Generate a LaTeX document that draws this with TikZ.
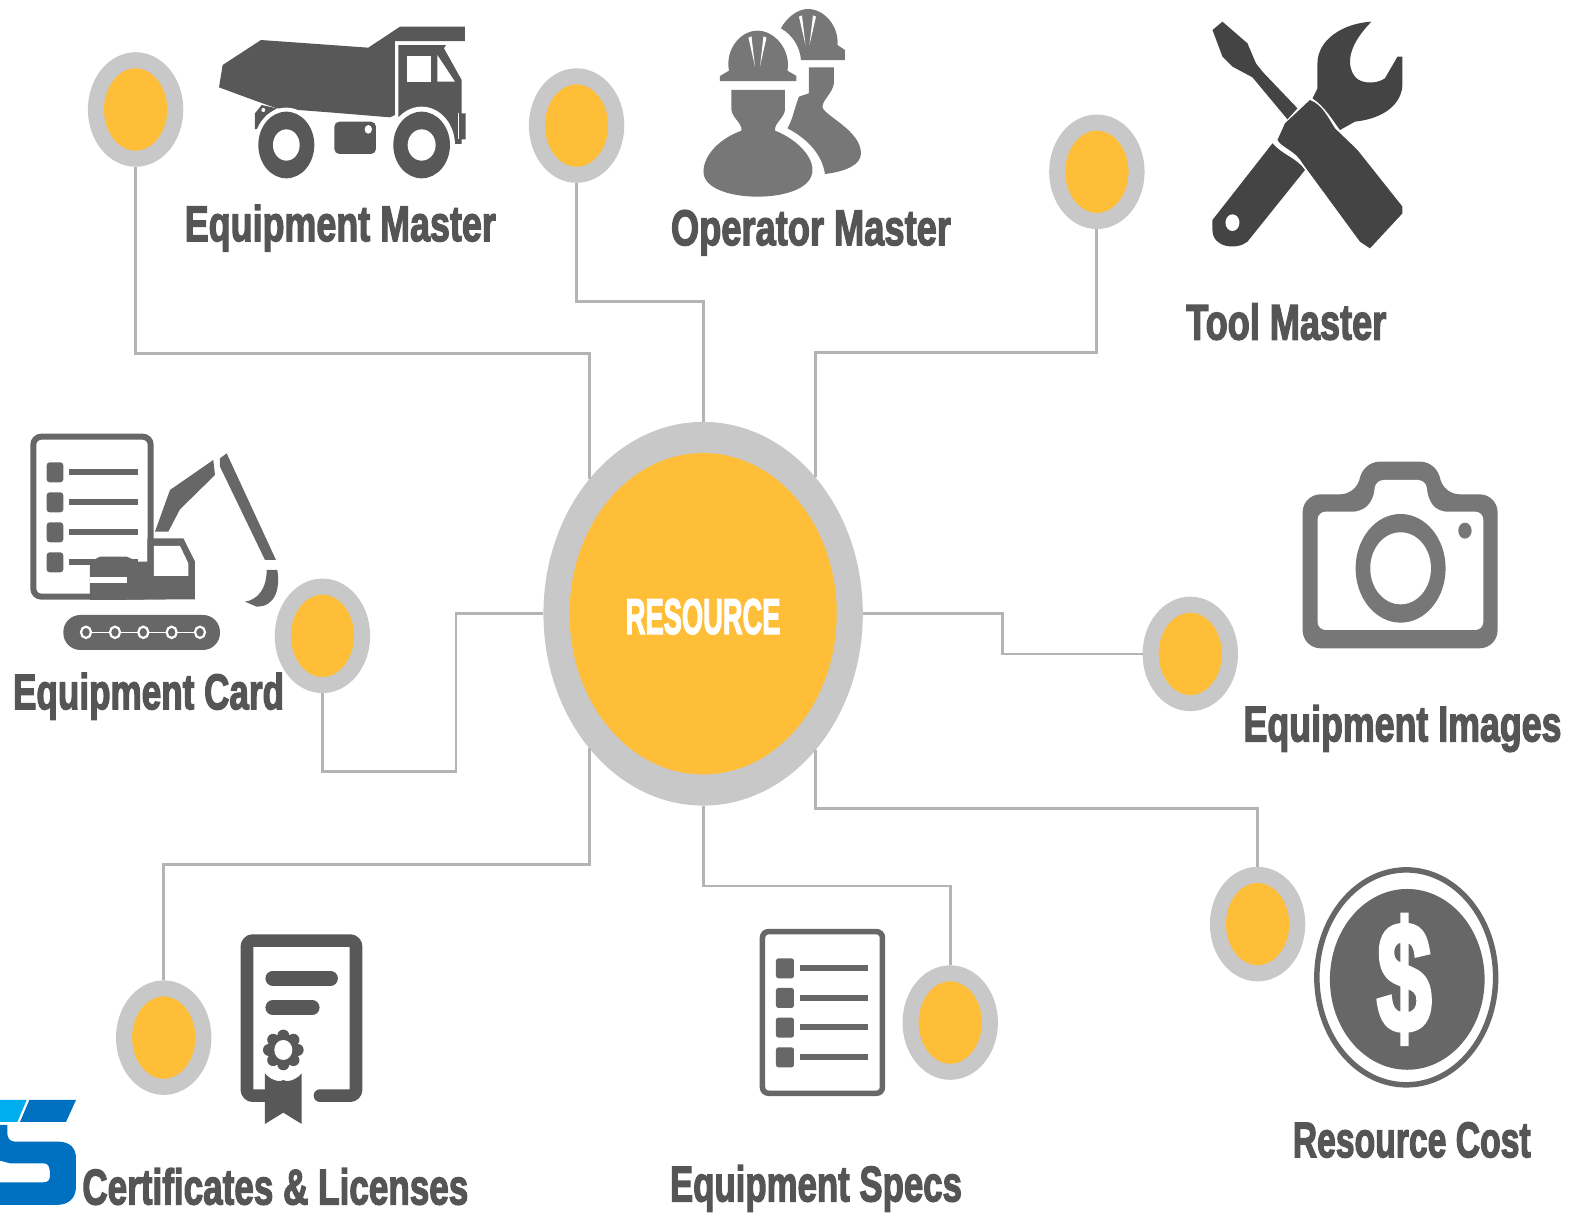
\documentclass[tikz,border=0pt]{standalone}
\usepackage{graphicx}
\usepackage{fontspec}
\usetikzlibrary{shapes.geometric}
\newfontfamily\lblfont[FakeBold=3]{Liberation Sans Bold}
\definecolor{dotyel}{HTML}{FFBE37}
\definecolor{ringgray}{HTML}{C8C8C8}
\definecolor{linkgray}{HTML}{B4B4B4}
\definecolor{txtgray}{HTML}{555555}
\definecolor{icondark}{HTML}{585858}
\definecolor{iconmid}{HTML}{676767}
\definecolor{iconlight}{HTML}{777777}
\definecolor{iconblack}{HTML}{444444}
\definecolor{logoblue}{HTML}{0070C0}
\definecolor{logosky}{HTML}{00AEEF}
\newcommand{\fitlabel}[2]{\resizebox{#1pt}{\height}{\fontsize{50}{50}\selectfont\lblfont #2}}
\tikzset{
  dotnode/.style={ellipse,draw=ringgray,fill=dotyel,line width=16pt,minimum width=79.4pt,minimum height=98.5pt,inner sep=0pt},
  link/.style={draw=linkgray,line width=2.8pt,line join=miter},
  lbl/.style={anchor=base west,inner sep=0pt,outer sep=0pt,text=txtgray},
  zoomthree/.style 2 args={x=.33333pt,y=-.33333pt,shift={(#1*3,#2*3)}},
  zoomwide/.style 2 args={x=.5pt,y=-.33333pt,shift={(#1*2,#2*3)}},
}
\begin{document}
\begin{tikzpicture}[x=1.0045pt,y=-1.0045pt]
\useasboundingbox (0,0) rectangle (1568,1212);
% central node
\node[ellipse,fill=ringgray,minimum width=319.4pt,minimum height=383.7pt,inner sep=0pt] (big) at (700,611) {};
\node[ellipse,fill=dotyel,minimum width=267.2pt,minimum height=321.4pt,inner sep=0pt] (core) at (700,611) {};
\node[lbl,text=white] (reslabel) at (623,631) {\fitlabel{154.7}{RESOURCE}};
% dots
\node[dotnode] (d1) at (135,109) {};
\node[dotnode] (d2) at (574,125) {};
\node[dotnode] (d3) at (1092,171) {};
\node[dotnode] (d4) at (321,633) {};
\node[dotnode] (d5) at (1185,651) {};
\node[dotnode] (d6) at (1252,920) {};
\node[dotnode] (d7) at (946,1018) {};
\node[dotnode] (d8) at (163,1033) {};
% attachment points on the big ring
\coordinate (bnw) at (587,477);
\coordinate (bne) at (812,475);
\coordinate (bsw) at (587,745);
\coordinate (bse) at (812,747);
% connectors
\draw[link] (d1.south) |- (587,352) -- (bnw);
\draw[link] (d2.south) |- (700,300) -- (big.north);
\draw[link] (d3.south) |- (812,351) -- (bne);
\draw[link] (d4.south) |- (454,768) |- (big.west);
\draw[link] (big.east) -| (998,631) |- (d5.west);
\draw[link] (bse) |- (1252,805) -- (d6.north);
\draw[link] (big.south) |- (946,882) -- (d7.north);
\draw[link] (bsw) |- (163,861) -- (d8.north);
% labels
\node[lbl] (l1) at (184,240) {\fitlabel{311}{Equipment Master}};
\node[lbl] (l2) at (668,244) {\fitlabel{280}{Operator Master}};
\node[lbl] (l3) at (1181,338) {\fitlabel{200}{Tool Master}};
\node[lbl] (l4) at (13,706) {\fitlabel{271}{Equipment Card}};
\node[lbl] (l5) at (1238,738) {\fitlabel{318}{Equipment Images}};
\node[lbl] (l6) at (1287,1152) {\fitlabel{238}{Resource Cost}};
\node[lbl] (l7) at (667,1196) {\fitlabel{292}{Equipment Specs}};
\node[lbl] (l8) at (82,1199) {\fitlabel{386}{Certificates \& Licenses}};

% truck
\begin{scope}[zoomthree={0}{0}]
\fill[icondark] (657,262)--(668,195)--(783,120)--(1105,143)--(1200,80)--(1395,80)--(1395,123)--(1185,123)--(1185,345)--(1170,352)--(1000,338)--(830,325)--(760,300)--cycle;
\fill[icondark] (1195,135)--(1338,135)--(1332,145)--(1385,240)--(1385,340)--(1397,340)--(1397,418)--(1385,418)--(1385,432)--(1300,432)--(1195,350)--cycle;
\fill[white] (1220,168) rectangle (1293,245);
\fill[white] (1312,165)--(1365,245)--(1312,245)--cycle;
\fill[white] (1265,435) ellipse [x radius=100,y radius=115];
\fill[white] (1373,340) rectangle (1376,418);
\fill[icondark] (1265,435) ellipse [x radius=85,y radius=100];
\fill[white] (1265,435) ellipse [x radius=42,y radius=47];
\fill[icondark] (765,340)--(785,315)--(830,325)--(800,345)--(780,385)--(765,388)--cycle;
\fill[white] (790,330) circle [radius=6];
\fill[white] (859,435) ellipse [x radius=97,y radius=112];
\fill[icondark] (859,435) ellipse [x radius=84,y radius=100];
\fill[white] (859,435) ellipse [x radius=40,y radius=47];
\fill[icondark,rounded corners=5pt] (1003,365) rectangle (1128,462);
\fill[white] (1105,388) ellipse [x radius=11,y radius=13];
\end{scope}

% workers
\begin{scope}[zoomwide={650}{0}]
% rear worker
\fill[iconlight] (262,85) .. controls (272,55) and (295,27) .. (315,27) .. controls (350,27) and (378,80) .. (375,135) -- (390,150) -- (390,180) -- (302,180) .. controls (300,140) and (285,105) .. (262,85) -- cycle;
\fill[white] (298,50)--(304,46)--(311,135)--cycle;
\fill[white] (326,46)--(332,50)--(319,135)--cycle;
\fill[iconlight] (318,202)--(368,202)--(368,250) .. controls (365,280) and (345,300) .. (345,320) .. controls (345,345) and (422,390) .. (422,460) .. controls (422,495) and (390,515) .. (350,522) .. controls (345,470) and (320,420) .. (275,385) .. controls (285,360) and (290,320) .. (298,290) -- (318,280) -- cycle;
% front worker
\fill[iconlight] (140,243)--(140,228)--(158,212) .. controls (150,150) and (180,92) .. (215,92) .. controls (250,92) and (282,150) .. (275,212) -- (293,228) -- (293,243) -- cycle;
\fill[white] (197,113)--(203,109)--(210,200)--cycle;
\fill[white] (227,109)--(233,113)--(220,200)--cycle;
\fill[iconlight] (163,270)--(270,270)--(270,330) .. controls (268,355) and (248,370) .. (250,392) .. controls (290,415) and (325,465) .. (325,510) .. controls (325,565) and (270,590) .. (215,590) .. controls (160,590) and (107,565) .. (107,515) .. controls (107,465) and (140,415) .. (183,392) .. controls (185,370) and (165,355) .. (163,330) -- cycle;
\end{scope}

% tools
\begin{scope}[zoomwide={650}{0}]
\fill[iconblack] (1125,90)--(1145,65)--(1195,130)--(1212,190)--(1225,215)--(1295,325)--(1275,358)--(1205,232)--(1165,200)--(1145,170)--cycle;
\fill[iconblack] (1320,300) .. controls (1345,315) and (1355,350) .. (1370,385) -- (1415,450)--(1505,620)--(1505,640)--(1440,745)--(1420,725)--(1305,490) .. controls (1290,450) and (1265,445) .. (1255,420) -- (1270,370)--cycle;
\fill[iconblack] (1443,65) .. controls (1385,70) and (1335,120) .. (1335,190) -- (1335,265) -- (1325,295) .. controls (1350,320) and (1365,360) .. (1380,390) -- (1410,365) .. controls (1470,355) and (1505,310) .. (1505,250) -- (1505,170) -- (1495,170) -- (1470,235) .. controls (1450,255) and (1420,250) .. (1410,230) .. controls (1390,190) and (1400,130) .. (1443,65) -- cycle;
\fill[iconblack] (1245,430) .. controls (1265,465) and (1295,475) .. (1310,510) -- (1195,725) .. controls (1175,750) and (1125,745) .. (1125,690) -- (1125,660) -- cycle;
\fill[white] (1165,668) ellipse [x radius=14,y radius=25];
\end{scope}

% equipment card
\begin{scope}[zoomthree={0}{420}]
\draw[iconmid,line width=6pt,rounded corners=8pt] (100,50) rectangle (452,530);
\foreach \yy in {127,217,307,397}{
  \fill[iconmid,rounded corners=3pt] (140,\yy) rectangle (190,\yy+60);
  \fill[iconmid] (207,\yy+20) rectangle (413,\yy+38);
}
\fill[iconmid] (270,425)--(300,410)--(380,410)--(415,425)--(442,425)--(442,355)--(550,355)--(585,425)--(585,538)--(270,540)--cycle;
\fill[white] (462,378)--(540,378)--(565,430)--(565,468)--(462,468)--cycle;
\fill[white] (270,470) rectangle (380,490);
\fill[iconmid] (465,335)--(510,210)--(640,120)--(645,165)--(540,268)--(505,335)--cycle;
\fill[iconmid] (660,115)--(680,100)--(828,420)--(795,420)--(660,140)--cycle;
\fill[iconmid] (800,450)--(832,450) .. controls (840,500) and (830,560) .. (770,560) -- (735,545) .. controls (770,540) and (800,510) .. (800,450) -- cycle;
\fill[iconmid,rounded corners=17pt] (190,585) rectangle (660,690);
\draw[white,line width=1.3pt] (258,637)--(600,637);
\foreach \xx in {258,345,430,515,600}{
  \draw[white,fill=iconmid,line width=2.2pt] (\xx,637) ellipse [x radius=15,y radius=17];
}
\end{scope}

% certificate
\begin{scope}[zoomthree={0}{920}]
\draw[icondark,line width=12.7pt,line cap=round,rounded corners=6pt] (960,527)--(1068,527)--(1068,62)--(741,62)--(741,527)--(800,527);
\draw[icondark,line width=14.5pt,line cap=round] (818,175)--(992,175);
\draw[icondark,line width=14.5pt,line cap=round] (818,263)--(937,263);
\foreach \aa in {0,45,...,315}{
  \fill[icondark] (850,390)++(\aa:43) circle [radius=18];
}
\fill[icondark] (850,390) circle [radius=48];
\fill[white] (850,390) ellipse [x radius=27,y radius=30];
\fill[icondark] (795,460) .. controls (805,475) and (835,490) .. (850,480) .. controls (865,490) and (895,475) .. (905,460) -- (905,612)--(850,578)--(795,612)--cycle;
% logo
\fill[logosky] (0,540)--(80,540)--(52,606)--(0,606)--cycle;
\fill[logoblue] (88,540)--(228,540)--(198,606)--(60,606)--cycle;
\fill[logoblue] (0,615)--(22,615)--(22,640) .. controls (22,655) and (30,665) .. (45,665) -- (175,665) .. controls (210,665) and (228,685) .. (228,715) -- (228,800) .. controls (228,835) and (205,855) .. (170,855) -- (0,855) -- (0,787) -- (130,787) .. controls (145,787) and (150,780) .. (150,765) .. controls (150,740) and (145,730) .. (130,730) -- (30,730) -- (0,722) -- cycle;
\end{scope}

% equipment specs icon
\begin{scope}[zoomwide={740}{900}]
\draw[iconmid,line width=5.5pt,rounded corners=6pt] (45,95) rectangle (285,580);
\foreach \yy in {175,264,353,442}{
  \fill[iconmid,rounded corners=2.5pt] (72,\yy) rectangle (108,\yy+60);
  \fill[iconmid] (120,\yy+20) rectangle (257,\yy+38);
}
\end{scope}

% dollar
\draw[iconmid,line width=5.5pt] (1400,973) ellipse [x radius=89,y radius=107];
\fill[iconmid] (1401,975) ellipse [x radius=77,y radius=90];
\node[text=white,inner sep=0pt] (dollar) at (1398,975) {\resizebox{55pt}{117pt}{\fontsize{50}{50}\selectfont\lblfont \$}};

% camera
\begin{scope}[zoomthree={1130}{440}]
\fill[iconlight,rounded corners=18pt] (518,625)--(1103,625)--(1103,163)--(935,163)--(925,65)--(695,65)--(685,163)--(518,163)--cycle;
\fill[white,rounded corners=8pt] (563,215)--(695,215)--(730,180)--(737,120)--(888,120)--(895,180)--(925,215)--(1060,215)--(1060,570)--(563,570)--cycle;
\fill[iconlight] (812,385) ellipse [x radius=135,y radius=163];
\fill[white] (812,385) ellipse [x radius=91,y radius=108];
\fill[iconlight] (1005,272) ellipse [x radius=20,y radius=24];
\end{scope}
\end{tikzpicture}
\end{document}
